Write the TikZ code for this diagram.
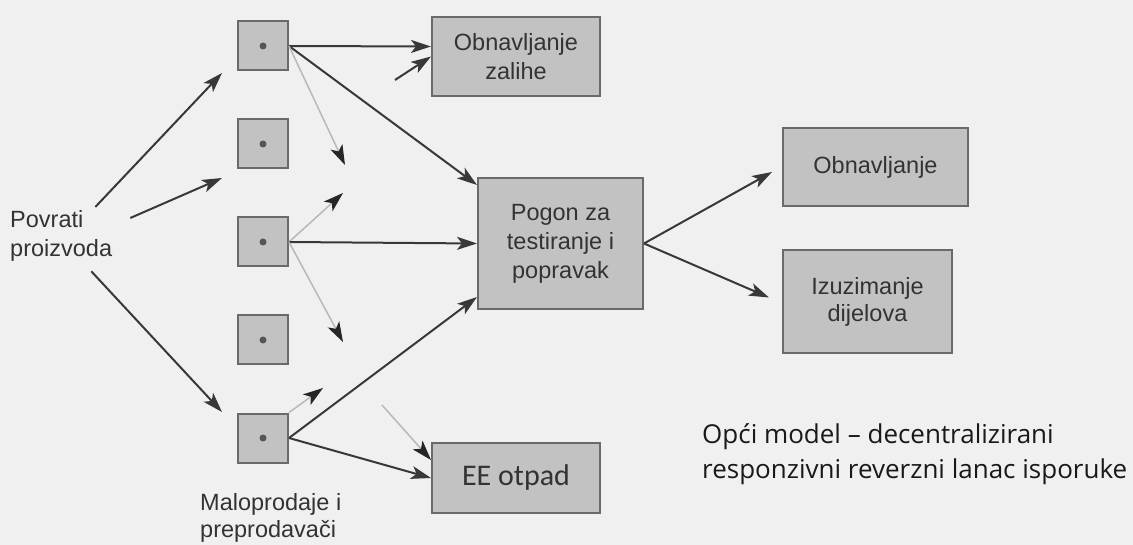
\documentclass[tikz,border=0pt]{standalone}
\usepackage{fontspec}
\setmainfont{Liberation Sans}
\newfontfamily\captionfont{Open Sans}
\newfontfamily\eefont{Carlito}
\usetikzlibrary{arrows.meta}

\definecolor{bggray}{HTML}{F0F0F0}
\definecolor{boxgray}{HTML}{C2C2C2}
\definecolor{edgegray}{HTML}{6A6A6A}
\definecolor{linegray}{HTML}{383838}
\definecolor{fadegray}{HTML}{B8B8B8}
\definecolor{txtgray}{HTML}{333333}

\begin{document}
\begin{tikzpicture}[x=1pt, y=-1pt,
  >={Stealth[length=20pt,width=13pt,inset=5pt]},
  every node/.style={font=\fontsize{23.5}{29}\selectfont, text=txtgray},
  shop/.style={draw=edgegray, fill=boxgray, line width=2pt, minimum width=50pt, minimum height=49pt, inner sep=0pt},
  stage/.style={draw=edgegray, fill=boxgray, line width=2pt, align=center, inner sep=0pt},
  flow/.style={->, draw=linegray, line width=2pt},
  faint/.style={-{Stealth[length=20pt,width=13pt,inset=5pt,color=black!85]}, draw=fadegray, line width=1.5pt}]

\fill[bggray] (0,0) rectangle (1133,545);
\useasboundingbox (0,0) rectangle (1133,545);

% shops
\foreach \i/\y in {1/46,2/144,3/242,4/340,5/438} {
  \node[shop] (b\i) at (263,\y) {};
  \fill[edgegray!80!black] (b\i) circle (3.5pt);
}

\node[align=left, anchor=north west, inner sep=0pt] (povrati) at (10,210) {Povrati\\proizvoda};
\node[align=left, anchor=north west, inner sep=0pt, font=\fontsize{23.5}{27}\selectfont] (shops) at (200,493) {Maloprodaje i\\preprodavači};

\node[stage, minimum width=168pt, minimum height=79pt] (zalihe) at (516,56.5) {Obnavljanje\\zalihe};
\node[stage, minimum width=165pt, minimum height=131pt, font=\fontsize{23.5}{29}\selectfont] (pogon) at (560.5,243.5) {Pogon za\\testiranje i\\popravak};
\node[stage, minimum width=168pt, minimum height=70pt, font=\eefont\fontsize{30}{34}\selectfont] (otpad) at (516,478) {EE otpad};
\node[stage, minimum width=185pt, minimum height=78pt] (obnov) at (875.5,167) {Obnavljanje};
\node[stage, minimum width=169pt, minimum height=103pt, font=\fontsize{23.5}{27}\selectfont] (izuz) at (867.5,301.5) {Izuzimanje\\dijelova};

\node[font=\captionfont\fontsize{26}{35}\selectfont, text=black!90, align=left, anchor=north west, inner sep=0pt] (caption) at (702,423) {Opći model – decentralizirani\\responzivni reverzni lanac isporuke};

\coordinate (in1) at (222,73);
\coordinate (in2) at (222,178);
\coordinate (in5) at (222,412);
\coordinate (mid1) at (345,165);
\coordinate (mid3a) at (343,193);
\coordinate (mid3b) at (343,342);
\coordinate (mid5) at (323,388);
\coordinate (from2) at (395,80);
\coordinate (from4) at (382,405);

\draw[flow] ([xshift=-17pt,yshift=3pt]povrati.north east) -- (in1);
\draw[flow] ([xshift=18pt,yshift=-8pt]povrati.north east) -- (in2);
\draw[flow] ([xshift=-21pt,yshift=-10pt]povrati.south east) -- (in5);

\draw[flow] (b1.east) -- ([yshift=10pt]zalihe.west);
\draw[flow] (from2) -- (zalihe.west);
\draw[flow] (b1.east) -- ([yshift=-8pt]pogon.north west);
\draw[faint] (b1.east) -- (mid1);
\draw[faint] (b3.east) -- (mid3a);
\draw[flow] (b3.east) -- (pogon.west);
\draw[faint] (b3.east) -- (mid3b);
\draw[flow] (b5.east) -- ([yshift=13pt]pogon.south west);
\draw[faint] (b5.north east) -- (mid5);
\draw[flow] (b5.east) -- (otpad.west);
\draw[faint] (from4) -- ([yshift=18pt]otpad.west);

\draw[flow] (pogon.east) -- ([xshift=-10pt,yshift=-5pt]obnov.west);
\draw[flow] (pogon.east) -- ([xshift=-13pt,yshift=4pt]izuz.west);
\end{tikzpicture}
\end{document}
